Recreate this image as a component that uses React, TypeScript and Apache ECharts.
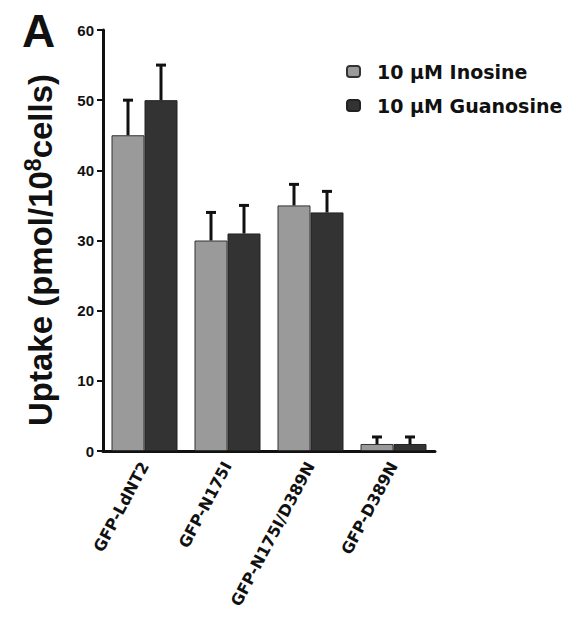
import React, { useEffect, useRef } from "react";
import * as echarts from "echarts";

const categories = ["GFP-LdNT2", "GFP-N175I", "GFP-N175I/D389N", "GFP-D389N"];
const seriesNames = ["10 µM Inosine", "10 µM Guanosine"];
const inosine = [45, 30, 35, 1];
const inosineErr = [5, 4, 3, 1];
const guanosine = [50, 31, 34, 1];
const guanosineErr = [5, 4, 3, 1];
const yTicks = { min: 0, max: 60, interval: 10 };

const FONT = "'Liberation Sans', Arial, sans-serif";
const WIDE = "'DejaVu Sans', Verdana, sans-serif";
const BAR_W = 33;

function errSeries(vals: number[], errs: number[], offset: number) {
  return {
    type: "custom",
    silent: true,
    z: 5,
    data: vals.map((v, i) => [i, v, v + errs[i]]),
    renderItem: (params: any, api: any) => {
      const i = api.value(0);
      const base = api.coord([i, api.value(1)]);
      const top = api.coord([i, api.value(2)]);
      const x = base[0] + offset;
      return {
        type: "group",
        children: [
          {
            type: "line",
            shape: { x1: x, y1: base[1], x2: x, y2: top[1] },
            style: { stroke: "#111", lineWidth: 3 },
          },
          {
            type: "line",
            shape: { x1: x - 5, y1: top[1], x2: x + 5, y2: top[1] },
            style: { stroke: "#111", lineWidth: 3 },
          },
        ],
      };
    },
  };
}

export default function App() {
  const ref = useRef<HTMLDivElement>(null);
  useEffect(() => {
    const chart = echarts.init(ref.current!, null, { renderer: "svg" });
    chart.setOption({
      animation: false,
      backgroundColor: "#fff",
      textStyle: { fontFamily: FONT },
      grid: { left: 103, top: 30, width: 332, bottom: 177, outerBoundsMode: "none" },
      graphic: [
        {
          type: "text",
          left: 22,
          top: 8,
          style: { text: "A", font: `bold 46px ${FONT}`, fill: "#111" },
        },
        {
          type: "text",
          x: 40,
          y: 250,
          rotation: Math.PI / 2,
          style: {
            text: "{a|Uptake (pmol/10}{s|8}{a|cells)}",
            align: "center",
            verticalAlign: "middle",
            rich: {
              a: { fontFamily: FONT, fontWeight: "bold", fontSize: 33, fill: "#111" },
              s: { fontFamily: FONT, fontWeight: "bold", fontSize: 23, fill: "#111", padding: [0, 0, 14, 0] },
            },
          },
        },
      ],
      legend: {
        left: 341,
        top: 57,
        orient: "vertical",
        itemWidth: 13,
        itemHeight: 11,
        itemGap: 15,
        textStyle: {
          fontFamily: WIDE,
          fontWeight: "bold",
          fontSize: 19,
          color: "#111",
          padding: [0, 0, 0, 12],
        },
        data: seriesNames,
      },
      xAxis: {
        type: "category",
        data: categories,
        axisLine: { lineStyle: { color: "#111", width: 3 } },
        axisTick: { alignWithLabel: true, length: 6, lineStyle: { color: "#111", width: 2 } },
        axisLabel: {
          rotate: 62,
          margin: 12,
          fontFamily: WIDE,
          fontWeight: "bold",
          fontSize: 16,
          color: "#111",
        },
      },
      yAxis: {
        type: "value",
        min: yTicks.min,
        max: yTicks.max,
        interval: yTicks.interval,
        splitLine: { show: false },
        axisLine: { show: true, lineStyle: { color: "#111", width: 3 } },
        axisTick: { show: true, length: 6, lineStyle: { color: "#111", width: 2 } },
        axisLabel: { fontFamily: FONT, fontWeight: "bold", fontSize: 15, color: "#111", margin: 9 },
      },
      series: [
        {
          name: seriesNames[0],
          type: "bar",
          data: inosine,
          barWidth: BAR_W,
          barGap: "0%",
          itemStyle: { color: "#9a9a9a", borderColor: "#333", borderWidth: 1 },
        },
        {
          name: seriesNames[1],
          type: "bar",
          data: guanosine,
          barWidth: BAR_W,
          barGap: "0%",
          itemStyle: { color: "#333333", borderColor: "#222", borderWidth: 1 },
        },
        errSeries(inosine, inosineErr, -BAR_W / 2),
        errSeries(guanosine, guanosineErr, BAR_W / 2),
      ],
    });
    return () => chart.dispose();
  }, []);
  return (
    <div
      ref={ref}
      style={{ position: "fixed", left: 0, top: 0, width: 570, height: 628 }}
    />
  );
}
